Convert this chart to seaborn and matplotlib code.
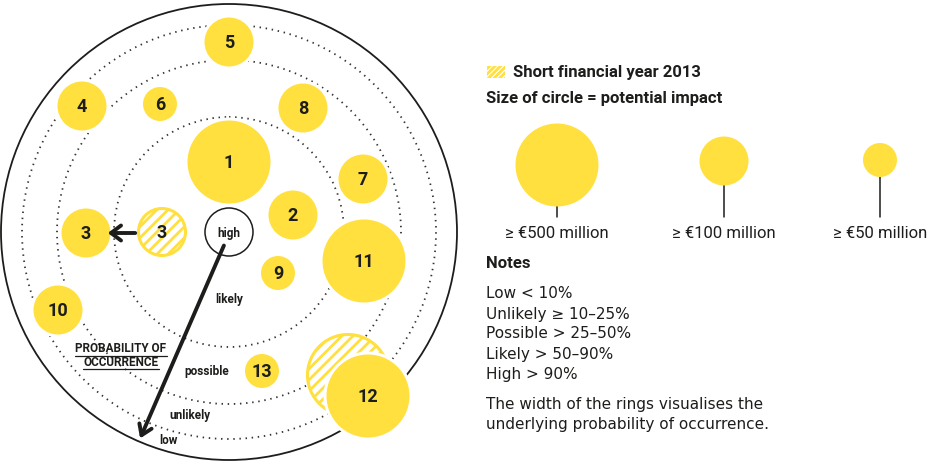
import matplotlib
matplotlib.use('Agg')
import matplotlib.pyplot as plt
import seaborn as sns
import pandas as pd
from matplotlib.patches import Circle, Rectangle

# risk bubbles: id, position (px, origin top-left), potential impact in EUR million
risk_ids = ['1', '2', '3', '4', '5', '6', '7', '8', '9', '10', '11', '12', '13']
risk_x = [229, 293, 86, 82, 229, 160, 363, 303, 278, 58, 364, 368, 262]
risk_y = [162, 215, 233, 106, 42, 104, 179, 108, 273, 310, 261, 396, 371]
risk_impact = [500, 100, 100, 100, 100, 50, 100, 100, 50, 100, 500, 500, 50]

# position in short financial year 2013
short_ids = ['3', '12']
short_x = [162, 348]
short_y = [232, 375]
short_impact = [100, 500]

# probability rings (outer radius, px) and their labels
ring_names = ['high', 'likely', 'possible', 'unlikely', 'low']
ring_radius = [24, 115, 172, 207, 228]
ring_label_x = [229, 229, 207, 190, 168]
ring_label_y = [233, 300, 372, 416, 441]

legend_impact = [500, 100, 50]
legend_labels = ['≥ €500 million', '≥ €100 million', '≥ €50 million']
legend_x = [557, 724, 880]
legend_y = [165, 161, 160]

notes = ['Low < 10%', 'Unlikely ≥ 10–25%', 'Possible > 25–50%',
         'Likely > 50–90%', 'High > 90%']

yellow = '#FFE03E'
ink = '#1d1d1b'
cx, cy = 229, 232
radius_px = {500: 41.5, 100: 24.5, 50: 17}

sns.set_theme(style='white')
plt.rcParams['font.family'] = ['Roboto', 'DejaVu Sans']
plt.rcParams['hatch.linewidth'] = 2.0

fig = plt.figure(figsize=(9.4, 4.62), dpi=100)
ax = fig.add_axes([0, 0, 1, 1])


def fix_axes():
    ax.set_xlim(0, 940)
    ax.set_ylim(462, 0)
    ax.set_xlabel('')
    ax.set_ylabel('')
    ax.axis('off')


fix_axes()

# rings
for r, name in zip(ring_radius, ring_names):
    if name == 'high':
        ax.add_patch(Circle((cx, cy), r, fill=False, ec=ink, lw=1.1, zorder=5))
    elif name == 'low':
        ax.add_patch(Circle((cx, cy), r, fill=False, ec=ink, lw=1.3, zorder=1))
    else:
        ax.add_patch(Circle((cx, cy), r, fill=False, ec='#333333', lw=1.3,
                            ls=(0, (0.8, 2.6)), zorder=1))

# hatched bubbles (short financial year)
for sx, sy, si in zip(short_x, short_y, short_impact):
    ax.add_patch(Circle((sx, sy), radius_px[si] - 1, fc='white', ec=yellow,
                        lw=2.2, hatch='///', zorder=2))

# solid bubbles, with a white halo
df = pd.DataFrame({'x': risk_x, 'y': risk_y, 'impact': risk_impact})
px2pt = 0.72
halo_sizes = {k: (2 * (v + 3) * px2pt) ** 2 for k, v in radius_px.items()}
bub_sizes = {k: (2 * v * px2pt) ** 2 for k, v in radius_px.items()}
sns.scatterplot(data=df, x='x', y='y', size='impact', sizes=halo_sizes, color='white',
                linewidth=0, legend=False, ax=ax, zorder=3)
sns.scatterplot(data=df, x='x', y='y', size='impact', sizes=bub_sizes, color=yellow,
                linewidth=0, legend=False, ax=ax, zorder=4)
fix_axes()

for rid, x, y in zip(risk_ids, risk_x, risk_y):
    ax.text(x, y + 1, rid, ha='center', va='center', fontsize=13, fontweight='bold',
            color=ink, zorder=6)
for rid, x, y in zip(short_ids, short_x, short_y):
    if rid == '3':
        ax.text(x, y + 1, rid, ha='center', va='center', fontsize=13, fontweight='bold',
                color=ink, zorder=6)

# ring labels
for name, x, y in zip(ring_names, ring_label_x, ring_label_y):
    ax.text(x, y, name, ha='center', va='center', fontsize=8.5, fontweight='bold',
            color=ink, zorder=6)

ax.text(121, 349, 'PROBABILITY OF', ha='center', va='center', fontsize=8.5,
        fontweight='bold', color=ink, zorder=6)
ax.text(121, 362, 'OCCURRENCE', ha='center', va='center', fontsize=8.5,
        fontweight='bold', color=ink, zorder=6)
ax.plot([75, 167], [355.5, 355.5], color=ink, lw=0.9, zorder=6)
ax.plot([83, 159], [368.5, 368.5], color=ink, lw=0.9, zorder=6)

# arrows
ax.annotate('', xy=(105, 233), xytext=(138, 233), zorder=6,
            arrowprops=dict(arrowstyle='->,head_length=0.6,head_width=0.45', color=ink, lw=2.8))
ax.annotate('', xy=(139, 441), xytext=(225, 243), zorder=6,
            arrowprops=dict(arrowstyle='->,head_length=0.6,head_width=0.4', color=ink, lw=2.8))

# legend
ax.add_patch(Rectangle((487, 66), 18, 12, fc='none', ec=yellow, lw=0, hatch='//////'))
ax.text(513, 72, 'Short financial year 2013', ha='left', va='center', fontsize=12,
        fontweight='bold', color=ink)
ax.text(486, 99, 'Size of circle = potential impact', ha='left', va='center', fontsize=12,
        fontweight='bold', color=ink)

stem_bottom = 217
leg_df = pd.DataFrame({'x': legend_x, 'y': legend_y, 'impact': legend_impact})
for x, y in zip(legend_x, legend_y):
    ax.plot([x, x], [y, stem_bottom], color=ink, lw=1.1, zorder=1)
sns.scatterplot(data=leg_df, x='x', y='y', size='impact', sizes=bub_sizes, color=yellow,
                linewidth=0, legend=False, ax=ax, zorder=4)
fix_axes()
for x, lab in zip(legend_x, legend_labels):
    ax.text(x, 233, lab, ha='center', va='center', fontsize=12, color=ink)

ax.text(486, 263, 'Notes', ha='left', va='center', fontsize=12, fontweight='bold', color=ink)
body = dict(ha='left', va='center', fontsize=11, color=ink, family=['DejaVu Sans'])
for i, line in enumerate(notes):
    ax.text(486, 294 + 20 * i, line, **body)
ax.text(486, 405, 'The width of the rings visualises the', **body)
ax.text(486, 424, 'underlying probability of occurrence.', **body)

fig.savefig('out.png', dpi=100)
